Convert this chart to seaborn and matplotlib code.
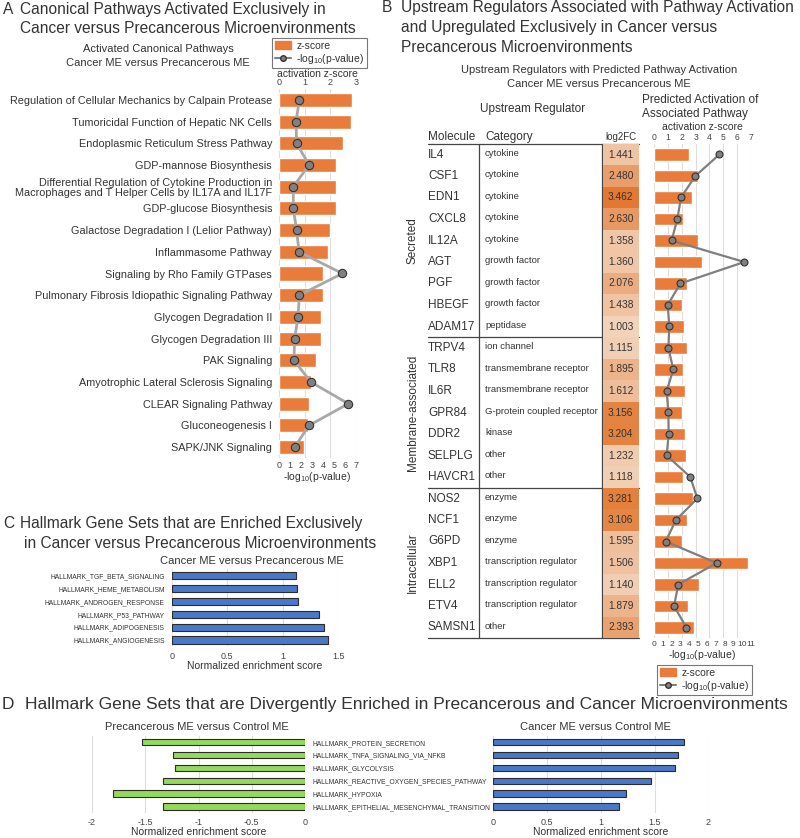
import numpy as np
import pandas as pd
import matplotlib
matplotlib.use('Agg')
import matplotlib.pyplot as plt
import seaborn as sns
from matplotlib.colors import LinearSegmentedColormap
from matplotlib.patches import Patch
from matplotlib.lines import Line2D
from matplotlib import font_manager

sns.set_theme(style='white')
plt.rcParams['font.family'] = ['Liberation Sans', 'DejaVu Sans']
plt.rcParams['mathtext.fontset'] = 'custom'
plt.rcParams['mathtext.rm'] = 'Liberation Sans'
plt.rcParams['mathtext.it'] = 'Liberation Sans:italic'

# narrow font for the hallmark labels if there is one
_names = {f.name for f in font_manager.fontManager.ttflist}
NARROW = 'Liberation Sans Narrow' if 'Liberation Sans Narrow' in _names else 'Liberation Sans'
HALL_FS = 6.0 if NARROW == 'Liberation Sans Narrow' else 4.9

# ---- panel A: canonical pathways
a_pathways = [
    'Regulation of Cellular Mechanics by Calpain Protease',
    'Tumoricidal Function of Hepatic NK Cells',
    'Endoplasmic Reticulum Stress Pathway',
    'GDP-mannose Biosynthesis',
    'Differential Regulation of Cytokine Production in\nMacrophages and T Helper Cells by IL17A and IL17F',
    'GDP-glucose Biosynthesis',
    'Galactose Degradation I (Lelior Pathway)',
    'Inflammasome Pathway',
    'Signaling by Rho Family GTPases',
    'Pulmonary Fibrosis Idiopathic Signaling Pathway',
    'Glycogen Degradation II',
    'Glycogen Degradation III',
    'PAK Signaling',
    'Amyotrophic Lateral Sclerosis Signaling',
    'CLEAR Signaling Pathway',
    'Gluconeogenesis I',
    'SAPK/JNK Signaling',
]
a_zscore = [2.83, 2.80, 2.50, 2.24, 2.24, 2.24, 1.98, 1.89, 1.70, 1.70,
            1.63, 1.63, 1.44, 1.25, 1.17, 1.13, 0.98]
a_logp = [1.85, 1.55, 1.60, 2.73, 1.30, 1.30, 1.60, 1.82, 5.76, 1.85,
          1.73, 1.42, 1.36, 2.90, 6.30, 2.73, 1.42]

# ---- panel B: upstream regulators
b_molecules = ['IL4', 'CSF1', 'EDN1', 'CXCL8', 'IL12A', 'AGT', 'PGF', 'HBEGF', 'ADAM17',
               'TRPV4', 'TLR8', 'IL6R', 'GPR84', 'DDR2', 'SELPLG', 'HAVCR1',
               'NOS2', 'NCF1', 'G6PD', 'XBP1', 'ELL2', 'ETV4', 'SAMSN1']
b_categories = ['cytokine', 'cytokine', 'cytokine', 'cytokine', 'cytokine',
                'growth factor', 'growth factor', 'growth factor', 'peptidase',
                'ion channel', 'transmembrane receptor', 'transmembrane receptor',
                'G-protein coupled receptor', 'kinase', 'other', 'other',
                'enzyme', 'enzyme', 'enzyme', 'transcription regulator',
                'transcription regulator', 'transcription regulator', 'other']
b_groups = ['Secreted', 'Membrane-associated', 'Intracellular']
b_group_sizes = [9, 7, 7]
b_log2fc = [1.441, 2.480, 3.462, 2.630, 1.358, 1.360, 2.076, 1.438, 1.003,
            1.115, 1.895, 1.612, 3.156, 3.204, 1.232, 1.118,
            3.281, 3.106, 1.595, 1.506, 1.140, 1.879, 2.393]
b_zscore = [2.50, 3.15, 2.72, 2.07, 3.17, 3.46, 2.38, 2.02, 2.16,
            2.36, 2.07, 2.21, 2.02, 2.21, 2.33, 2.07,
            2.81, 2.36, 2.02, 6.76, 3.27, 2.48, 2.86]
b_logp = [7.41, 4.69, 3.06, 2.65, 2.00, 10.24, 2.99, 1.55, 1.74,
          1.63, 2.19, 1.44, 1.63, 1.66, 1.44, 4.12,
          4.91, 2.49, 1.32, 7.10, 2.76, 2.27, 3.67]

# ---- panel C: hallmark sets, cancer vs precancerous
c_sets = ['HALLMARK_TGF_BETA_SIGNALING', 'HALLMARK_HEME_METABOLISM',
          'HALLMARK_ANDROGEN_RESPONSE', 'HALLMARK_P53_PATHWAY',
          'HALLMARK_ADIPOGENESIS', 'HALLMARK_ANGIOGENESIS']
c_nes = [1.12, 1.13, 1.14, 1.33, 1.375, 1.41]

# ---- panel D: divergent hallmark sets
d_sets = ['HALLMARK_PROTEIN_SECRETION', 'HALLMARK_TNFA_SIGNALING_VIA_NFKB',
          'HALLMARK_GLYCOLYSIS', 'HALLMARK_REACTIVE_OXYGEN_SPECIES_PATHWAY',
          'HALLMARK_HYPOXIA', 'HALLMARK_EPITHELIAL_MESENCHYMAL_TRANSITION']
d_precancer = [-1.53, -1.24, -1.22, -1.33, -1.80, -1.33]
d_cancer = [1.77, 1.72, 1.69, 1.47, 1.235, 1.17]

ORANGE = '#E97C3A'
BLUE = '#4A78C8'
GREEN = '#94D95A'
TXT = '#333333'
GRID = '#DDDDDD'

W, H = 800, 838
fig = plt.figure(figsize=(W / 100, H / 100), dpi=100)


def add_ax(x0, y0, x1, y1):
    return fig.add_axes([x0 / W, 1 - y1 / H, (x1 - x0) / W, (y1 - y0) / H])


def ftext(x, y, s, **kw):
    kw.setdefault('va', 'baseline')
    kw.setdefault('color', TXT)
    fig.text(x / W, 1 - y / H, s, **kw)


def clean(ax):
    for sp in ax.spines.values():
        sp.set_visible(False)


PVAL = '-log$_{10}$(p-value)'
TS = 11.2

leg_handles = [Patch(color=ORANGE, label='z-score'),
               Line2D([], [], color='#808080', lw=1.5, marker='o', ms=4,
                      mfc='#808080', mec='#333', label=PVAL)]


def add_legend(x, y):
    lg = fig.legend(handles=leg_handles, loc='upper left', bbox_to_anchor=(x / W, 1 - y / H),
                    fontsize=7.5, frameon=True, fancybox=False, edgecolor='#555',
                    borderaxespad=0, borderpad=0.25, handlelength=1.6, labelspacing=0.12,
                    handletextpad=0.5, labelcolor=TXT)
    lg.get_frame().set_linewidth(0.8)


# ================= A =================
ftext(3, 14, 'A', fontsize=TS)
ftext(20, 14, 'Canonical Pathways Activated Exclusively in', fontsize=TS)
ftext(20, 33, 'Cancer versus Precancerous Microenvironments', fontsize=TS)
ftext(158, 52, 'Activated Canonical Pathways', fontsize=8, ha='center')
ftext(158, 66, 'Cancer ME versus Precancerous ME', fontsize=8, ha='center')

axA = add_ax(279, 89, 356, 458)
sns.barplot(x=a_zscore, y=a_pathways, orient='h', color=ORANGE, saturation=1,
            width=0.65, errorbar=None, ax=axA)
twA = axA.twiny()
twA.plot(a_logp, np.arange(len(a_logp)), color='#A8A8A8', lw=2, marker='o', ms=6,
         mfc='#808080', mec='#333', mew=0.8)

axA.set_xlim(0, 3)
axA.set_ylim(len(a_pathways) - 0.5, -0.5)
axA.set_xticks([0, 1, 2, 3])
axA.xaxis.tick_top()
axA.xaxis.set_label_position('top')
axA.set_xlabel('activation z-score', fontsize=7.5, color=TXT, labelpad=0.5)
axA.set_ylabel('')
axA.tick_params(axis='x', length=0, labelsize=6.5, pad=1.5, colors='#444')
axA.tick_params(axis='y', length=0, labelsize=7.8, pad=5, colors=TXT)
for lab in axA.get_yticklabels():
    lab.set_linespacing(1.0)
axA.grid(axis='x', color=GRID, lw=0.8)
axA.set_axisbelow(True)
clean(axA)

twA.set_xlim(0, 7)
twA.set_xticks(range(8))
twA.xaxis.tick_bottom()
twA.xaxis.set_label_position('bottom')
twA.set_xlabel(PVAL, fontsize=7.5, color=TXT, labelpad=0)
twA.tick_params(axis='x', length=0, labelsize=6.5, pad=2, colors='#444')
twA.set_ylim(len(a_pathways) - 0.5, -0.5)
clean(twA)

add_legend(272, 38)

# ================= B =================
ftext(382, 12, 'B', fontsize=TS)
ftext(401, 12, 'Upstream Regulators Associated with Pathway Activation', fontsize=TS)
ftext(401, 32, 'and Upregulated Exclusively in Cancer versus', fontsize=TS)
ftext(401, 52, 'Precancerous Microenvironments', fontsize=TS)
ftext(599, 73, 'Upstream Regulators with Predicted Pathway Activation', fontsize=8, ha='center')
ftext(599, 87, 'Cancer ME versus Precancerous ME', fontsize=8, ha='center')
ftext(533, 112, 'Upstream Regulator', fontsize=8.5, ha='center')
ftext(642, 103, 'Predicted Activation of', fontsize=8.5)
ftext(642, 117, 'Associated Pathway', fontsize=8.5)
ftext(428, 140, 'Molecule', fontsize=8.5)
ftext(485, 140, 'Category', fontsize=8.5)
ftext(620.5, 140, 'log2FC', fontsize=7, ha='center')

n_b = len(b_molecules)
tab = add_ax(400, 143.75, 640, 638.25)
tab.set_xlim(400, 640)
tab.set_ylim(n_b - 0.5, -0.5)
tab.axis('off')
for i, (m, c) in enumerate(zip(b_molecules, b_categories)):
    tab.text(428, i, m, va='center', fontsize=8.5, color=TXT)
    tab.text(485, i - 0.05, c, va='center', fontsize=6.8, color=TXT)
bounds = np.concatenate([[0], np.cumsum(b_group_sizes)]) - 0.5
for b in bounds:
    tab.plot([428, 639], [b, b], color='#444', lw=0.9, clip_on=False)
for xv in (479, 602):
    tab.plot([xv, xv], [bounds[0], bounds[-1]], color='#444', lw=0.9, clip_on=False)
for g, lo, hi in zip(b_groups, bounds[:-1], bounds[1:]):
    tab.text(413, (lo + hi) / 2, g, rotation=90, ha='center', va='center',
             fontsize=8.5, color=TXT)

hm = add_ax(602.5, 143.75, 639, 638.25)
fc_cmap = LinearSegmentedColormap.from_list('fc', ['#F2D3BA', '#EBA678', '#E2772F'])
sns.heatmap(pd.DataFrame({'log2FC': b_log2fc}, index=b_molecules), ax=hm, cmap=fc_cmap,
            vmin=1.0, vmax=3.5, cbar=False, annot=True, fmt='.3f',
            annot_kws={'fontsize': 7.3, 'color': TXT},
            xticklabels=False, yticklabels=False)

axB = add_ax(654, 143.75, 751, 638.25)
sns.barplot(x=b_zscore, y=b_molecules, orient='h', color=ORANGE, saturation=1,
            width=0.6, errorbar=None, ax=axB)
twB = axB.twiny()
twB.plot(b_logp, np.arange(n_b), color='#7F7F7F', lw=1.6, marker='o', ms=5,
         mfc='#808080', mec='#333', mew=0.8)

axB.set_xlim(0, 7)
axB.set_ylim(n_b - 0.5, -0.5)
axB.set_xticks(range(8))
axB.set_yticks([])
axB.set_ylabel('')
axB.xaxis.tick_top()
axB.xaxis.set_label_position('top')
axB.set_xlabel('activation z-score', fontsize=7.5, color=TXT, labelpad=1.8)
axB.tick_params(axis='x', length=0, labelsize=6.2, pad=1.5, colors='#444')
axB.grid(axis='x', color=GRID, lw=0.8)
axB.set_axisbelow(True)
clean(axB)

twB.set_xlim(0, 11)
twB.set_xticks(range(12))
twB.xaxis.tick_bottom()
twB.xaxis.set_label_position('bottom')
twB.set_xlabel(PVAL, fontsize=7.5, color=TXT, labelpad=0)
twB.tick_params(axis='x', length=0, labelsize=6.0, pad=2, colors='#444')
twB.set_ylim(n_b - 0.5, -0.5)
clean(twB)

add_legend(657, 665)

# ================= C =================
ftext(3, 528, 'C', fontsize=TS)
ftext(20, 528, 'Hallmark Gene Sets that are Enriched Exclusively', fontsize=TS)
ftext(24, 548, 'in Cancer versus Precancerous Microenvironments', fontsize=TS)
ftext(252, 564, 'Cancer ME versus Precancerous ME', fontsize=8, ha='center')

axC = add_ax(171.7, 569.3, 338.3, 646.4)
sns.barplot(x=c_nes, y=c_sets, orient='h', color=BLUE, saturation=1, width=0.55,
            edgecolor='#2B2B2B', linewidth=0.8, errorbar=None, ax=axC)
axC.set_xlim(0, 1.5)
axC.set_xticks([0, 0.5, 1, 1.5])
axC.set_xticklabels(['0', '0.5', '1', '1.5'])
axC.set_xlabel('Normalized enrichment score', fontsize=7.5, color=TXT, labelpad=0)
axC.set_ylabel('')
axC.tick_params(axis='x', length=0, labelsize=6.5, pad=4, colors='#444')
axC.tick_params(axis='y', length=0, labelsize=HALL_FS, pad=5, colors=TXT)
for lab in axC.get_yticklabels():
    lab.set_fontfamily(NARROW)
axC.grid(axis='x', color=GRID, lw=0.8)
axC.set_axisbelow(True)
clean(axC)

# ================= D =================
ftext(2, 709, 'D', fontsize=12.5)
ftext(25, 709, 'Hallmark Gene Sets that are Divergently Enriched in Precancerous '
      'and Cancer Microenvironments', fontsize=12.5)
ftext(197, 730, 'Precancerous ME versus Control ME', fontsize=8, ha='center')
ftext(595, 730, 'Cancer ME versus Control ME', fontsize=8, ha='center')

axDR = add_ax(493.3, 735.9, 708.3, 812.7)
sns.barplot(x=d_cancer, y=d_sets, orient='h', color=BLUE, saturation=1, width=0.5,
            edgecolor='#2B2B2B', linewidth=0.8, errorbar=None, ax=axDR)
axDR.set_xlim(0, 2)
axDR.set_xticks([0, 0.5, 1, 1.5, 2])
axDR.set_xticklabels(['0', '0.5', '1', '1.5', '2'])
axDR.set_yticks([])
axDR.set_ylabel('')
axDR.set_xlabel('Normalized enrichment score', fontsize=7.5, color=TXT, labelpad=0)
axDR.tick_params(axis='x', length=0, labelsize=6.5, pad=4, colors='#444')
axDR.grid(axis='x', color=GRID, lw=0.8)
axDR.set_axisbelow(True)
axDR.patch.set_alpha(0)
clean(axDR)

axDL = add_ax(92, 735.9, 305, 812.7)
sns.barplot(x=d_precancer, y=d_sets, orient='h', color=GREEN, saturation=1, width=0.5,
            edgecolor='#2B2B2B', linewidth=0.8, errorbar=None, ax=axDL)
axDL.set_xlim(-2, 0)
axDL.set_xticks([-2, -1.5, -1, -0.5, 0])
axDL.set_xticklabels(['-2', '-1.5', '-1', '-0.5', '0'])
axDL.yaxis.tick_right()
axDL.set_ylabel('')
axDL.set_xlabel('Normalized enrichment score', fontsize=7.5, color=TXT, labelpad=0)
axDL.tick_params(axis='x', length=0, labelsize=6.5, pad=4, colors='#444')
axDL.tick_params(axis='y', length=0, labelsize=HALL_FS, pad=5.5, colors=TXT)
for lab in axDL.get_yticklabels():
    lab.set_fontfamily(NARROW)
    lab.set_ha('left')
axDL.grid(axis='x', color=GRID, lw=0.8)
axDL.set_axisbelow(True)
axDL.patch.set_alpha(0)
clean(axDL)

fig.savefig('out.png', dpi=100)
